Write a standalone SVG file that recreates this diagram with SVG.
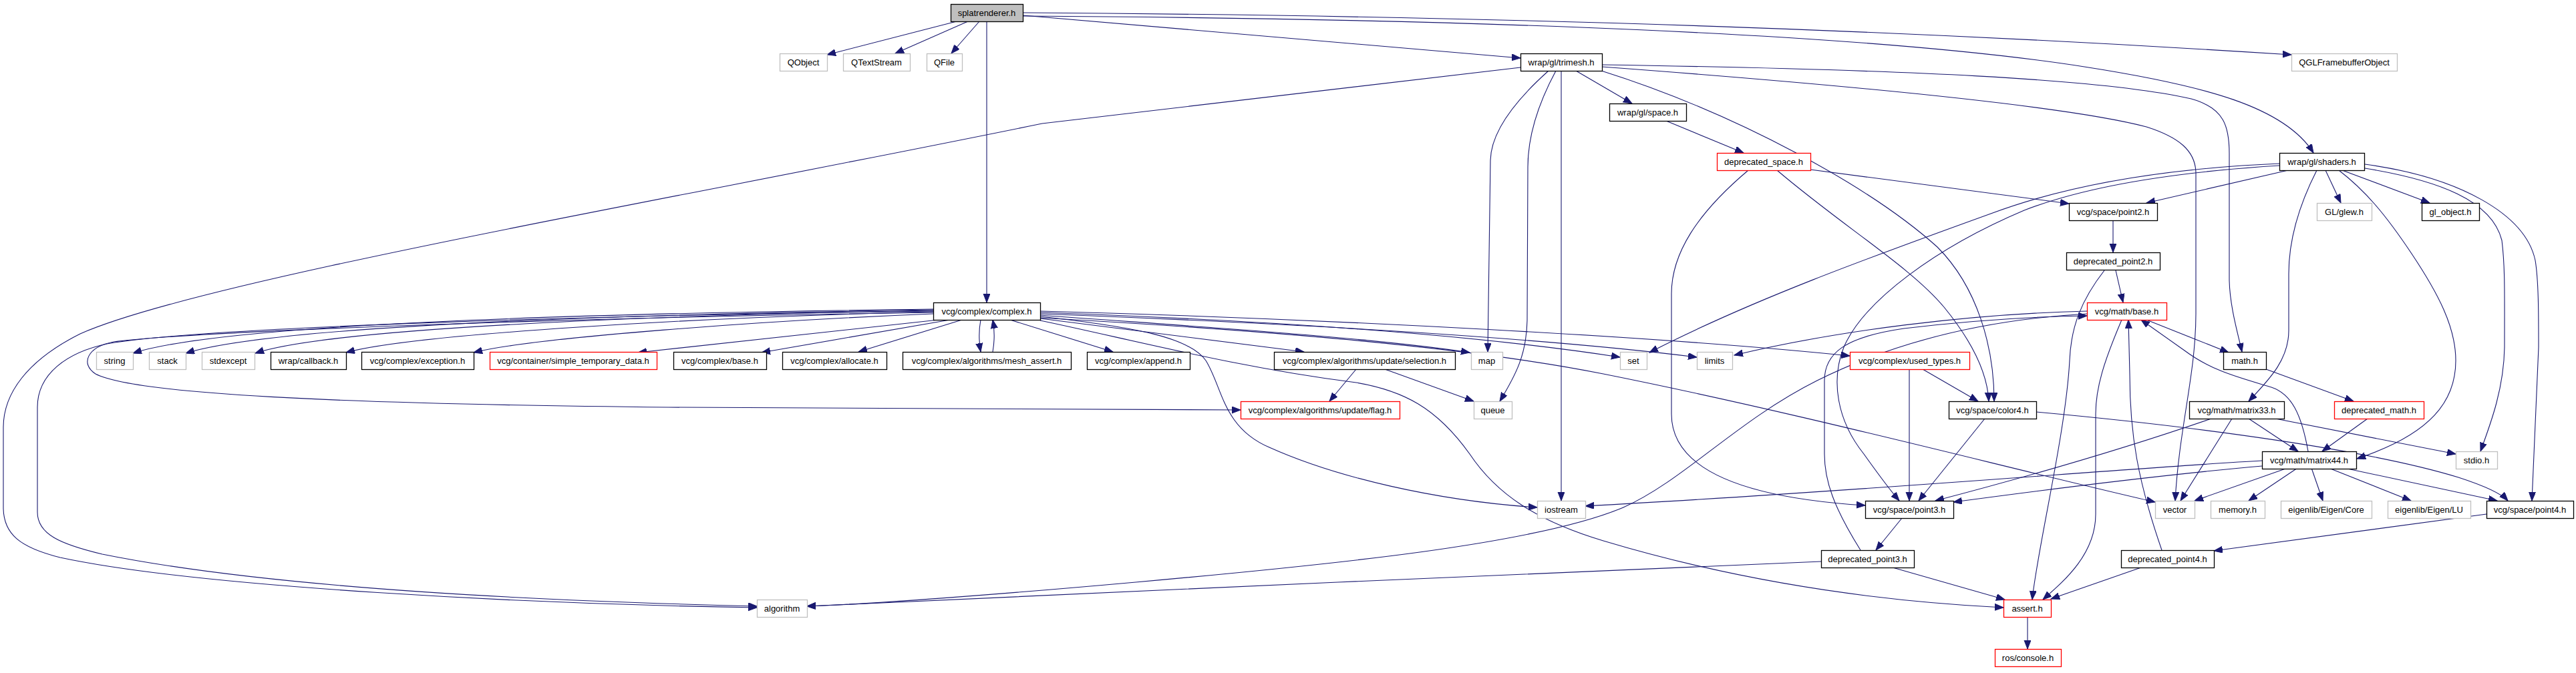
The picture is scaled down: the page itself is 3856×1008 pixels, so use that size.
<svg xmlns="http://www.w3.org/2000/svg" width="3856" height="1008" viewBox="0 0 3856 1008">
<defs>
<marker id="a" markerUnits="userSpaceOnUse" markerWidth="15" markerHeight="12" refX="13" refY="5" orient="auto">
<path d="M0,0 L13,5 L0,10 z" fill="#191970" stroke="#191970" stroke-width="1"/>
</marker>
<style>
rect{fill:#fff;stroke:#000;stroke-width:1.3}
.x rect{stroke:#bfbfbf}
.r rect{stroke:#ff0000}
.root rect{fill:#bfbfbf}
text{font-family:"Liberation Sans",Arial,sans-serif;font-size:13px;text-anchor:middle;fill:#000}
#edges path{fill:none;stroke:#191970;stroke-width:1.1;marker-end:url(#a)}
</style>
</defs>
<rect x="0" y="0" width="3856" height="1008" style="fill:#fff;stroke:none"/>
<g id="edges">
<path d="M1432,32 L1238,82"/>
<path d="M1449,32 L1340,80"/>
<path d="M1466,32 L1424,80"/>
<path d="M1477,32 L1477,453"/>
<path d="M1531,23 L2276,87"/>
<path d="M1531,19 C2300,24 2900,48 3430,82"/>
<path d="M1531,24 C2200,28 2800,50 3120,100 C3300,128 3420,160 3463,229"/>
<path d="M2276,101 L1560,185 C1000,300 300,420 120,500 C40,540 5,590 5,640 L5,760 C5,800 30,820 90,835 C300,880 800,905 1133,910"/>
<path d="M2318,106 C2280,140 2232,190 2231,240 L2227,527"/>
<path d="M2329,106 C2300,160 2287,210 2287,250 L2286,480 C2285,530 2270,560 2245,601"/>
<path d="M2337,106 L2337,750"/>
<path d="M2359,106 L2443,155"/>
<path d="M2397,106 C2600,170 2800,280 2900,370 C2960,430 2985,520 2985,601"/>
<path d="M2398,97 C2850,104 3150,118 3280,148 C3330,162 3337,190 3337,230 L3337,420 C3338,460 3350,500 3356,527"/>
<path d="M2398,100 C2800,130 3100,160 3213,190 C3260,205 3287,225 3287,260 L3287,470 C3287,560 3262,640 3256,750"/>
<path d="M2494,181 L2610,229"/>
<path d="M2617,255 C2540,320 2502,380 2502,440 L2502,620 C2502,700 2600,745 2792,757"/>
<path d="M2660,255 C2760,340 2860,400 2910,460 C2955,515 2975,560 2977,601"/>
<path d="M2710,254 L3097,305"/>
<path d="M3425,255 L3213,304"/>
<path d="M3481,255 L3504,304"/>
<path d="M3506,255 L3637,304"/>
<path d="M3412,245 C3250,252 3100,275 2980,320 C2800,385 2620,450 2469,528"/>
<path d="M3412,248 C3250,258 3120,280 3030,315 C2900,370 2790,450 2760,520 C2740,570 2750,630 2790,680 C2815,715 2830,735 2843,750"/>
<path d="M3468,255 C3440,310 3426,360 3426,410 L3426,495 C3426,540 3395,570 3366,601"/>
<path d="M3501,255 C3540,285 3570,320 3610,380 C3650,440 3676,490 3676,540 C3676,600 3640,650 3528,687"/>
<path d="M3540,252 C3650,270 3730,300 3745,360 C3750,400 3749,440 3749,520 C3748,580 3730,630 3713,676"/>
<path d="M3540,246 C3680,265 3780,320 3795,390 C3800,420 3800,470 3800,520 L3790,750"/>
<path d="M3163,330 L3163,378"/>
<path d="M3167,405 L3178,453"/>
<path d="M3150,405 C3115,450 3100,490 3098,540 C3092,650 3050,820 3042,898"/>
<path d="M3124,466 C2950,470 2750,495 2596,532"/>
<path d="M3124,470 C2950,480 2820,520 2720,570 C2600,630 2520,720 2430,760 C2300,815 2000,845 1700,872 C1500,890 1300,905 1208,908"/>
<path d="M3176,479 C3150,540 3137,580 3137,620 L3137,770 C3137,830 3090,870 3058,898"/>
<path d="M3213,479 L3336,528"/>
<path d="M3236,824 C3200,720 3188,650 3188,560 L3186,479"/>
<path d="M3455,676 C3445,620 3430,590 3400,580 C3350,565 3310,555 3270,525 L3205,479"/>
<path d="M2785,824 C2745,760 2731,720 2731,680 L2731,570 C2731,530 2760,505 2850,492 C2950,480 3050,474 3124,473"/>
<path d="M3366,627 L3440,676"/>
<path d="M3341,627 L3264,750"/>
<path d="M3406,627 L3676,680"/>
<path d="M3310,627 C3200,665 3050,710 2897,750"/>
<path d="M3392,553 L3523,601"/>
<path d="M3544,627 L3476,676"/>
<path d="M3424,701 L3285,750"/>
<path d="M3439,701 L3366,750"/>
<path d="M3460,701 L3477,750"/>
<path d="M3486,701 L3609,750"/>
<path d="M3509,701 L3738,750"/>
<path d="M3386,690 C3200,700 2800,735 2373,758"/>
<path d="M3386,698 C3250,710 3050,735 2924,752"/>
<path d="M3048,617 C3300,640 3550,675 3680,715 C3720,728 3745,740 3754,750"/>
<path d="M2971,627 L2872,750"/>
<path d="M2858,553 L2858,750"/>
<path d="M2878,553 L2961,601"/>
<path d="M2847,776 L2808,824"/>
<path d="M2833,850 L3001,898"/>
<path d="M2726,841 C2300,858 1600,890 1208,908"/>
<path d="M3722,770 L3314,825"/>
<path d="M3205,850 L3070,897"/>
<path d="M3035,924 L3035,972"/>
<path d="M1397,463 C1000,468 350,480 199,529"/>
<path d="M1397,464 C1000,470 420,485 278,529"/>
<path d="M1397,465 C1000,472 500,490 382,529"/>
<path d="M1397,467 C1050,475 620,500 518,528"/>
<path d="M1397,470 C1150,480 800,505 709,528"/>
<path d="M1405,479 L955,528"/>
<path d="M1422,479 L1140,528"/>
<path d="M1440,479 L1285,527"/>
<path d="M1468,479 C1465,495 1465,510 1468,527"/>
<path d="M1486,527 C1489,510 1489,495 1486,479"/>
<path d="M1397,466 C900,472 300,490 160,515 C100,528 56,560 56,610 L56,767 C56,800 90,815 153,830 C400,880 800,900 1133,908"/>
<path d="M1397,468 C900,475 300,495 170,512 C130,520 120,545 143,560 C200,590 500,605 1000,610 L1857,614"/>
<path d="M1512,479 L1666,527"/>
<path d="M1557,477 L1952,527"/>
<path d="M1557,472 C1800,490 2050,505 2200,528"/>
<path d="M1557,474 C1700,490 1780,505 1805,540 C1830,580 1830,640 1900,670 C2000,715 2150,750 2301,760"/>
<path d="M1557,480 C1700,510 1850,550 2030,573 C2100,585 2150,610 2200,680 C2240,740 2300,780 2400,810 C2600,870 2800,900 2999,910"/>
<path d="M1557,468 C1900,480 2200,500 2425,535"/>
<path d="M1557,470 C1950,485 2300,505 2540,535"/>
<path d="M1557,466 C2000,478 2500,505 2769,533"/>
<path d="M1557,476 C1900,495 2200,520 2400,560 C2700,620 3000,700 3226,752"/>
<path d="M2030,553 L1990,601"/>
<path d="M2073,553 L2206,601"/>
</g>
<g id="n_splat" class="root"><rect x="1423.5" y="6.5" width="108" height="26"/><text x="1477" y="24">splatrenderer.h</text></g>
<g id="n_qobject" class="x"><rect x="1167.5" y="80.5" width="71" height="26"/><text x="1202.5" y="98">QObject</text></g>
<g id="n_qtextstream" class="x"><rect x="1262.5" y="80.5" width="100" height="26"/><text x="1312" y="98">QTextStream</text></g>
<g id="n_qfile" class="x"><rect x="1387.5" y="80.5" width="53" height="26"/><text x="1413.5" y="98">QFile</text></g>
<g id="n_trimesh"><rect x="2276.5" y="80.5" width="122" height="26"/><text x="2337" y="98">wrap/gl/trimesh.h</text></g>
<g id="n_qglfbo" class="x"><rect x="3430.5" y="80.5" width="158" height="26"/><text x="3509" y="98">QGLFramebufferObject</text></g>
<g id="n_space"><rect x="2409.5" y="155.5" width="115" height="26"/><text x="2466.5" y="173">wrap/gl/space.h</text></g>
<g id="n_depspace" class="r"><rect x="2570.5" y="229.5" width="140" height="26"/><text x="2640" y="247">deprecated_space.h</text></g>
<g id="n_shaders"><rect x="3412.5" y="229.5" width="127" height="26"/><text x="3475.5" y="247">wrap/gl/shaders.h</text></g>
<g id="n_point2"><rect x="3097.5" y="304.5" width="132" height="26"/><text x="3163" y="322">vcg/space/point2.h</text></g>
<g id="n_glew" class="x"><rect x="3468.5" y="304.5" width="82" height="26"/><text x="3509" y="322">GL/glew.h</text></g>
<g id="n_globject"><rect x="3625.5" y="304.5" width="86" height="26"/><text x="3668" y="322">gl_object.h</text></g>
<g id="n_dp2"><rect x="3093.5" y="378.5" width="140" height="26"/><text x="3163" y="396">deprecated_point2.h</text></g>
<g id="n_complex"><rect x="1397.5" y="453.5" width="160" height="26"/><text x="1477" y="471">vcg/complex/complex.h</text></g>
<g id="n_mathbase" class="r"><rect x="3124.5" y="453.5" width="119" height="26"/><text x="3183.5" y="471">vcg/math/base.h</text></g>
<g id="n_string" class="x"><rect x="144.5" y="527.5" width="55" height="26"/><text x="171.5" y="545">string</text></g>
<g id="n_stack" class="x"><rect x="223.5" y="527.5" width="55" height="26"/><text x="250.5" y="545">stack</text></g>
<g id="n_stdexcept" class="x"><rect x="302.5" y="527.5" width="79" height="26"/><text x="341.5" y="545">stdexcept</text></g>
<g id="n_callback"><rect x="405.5" y="527.5" width="113" height="26"/><text x="461.5" y="545">wrap/callback.h</text></g>
<g id="n_exception"><rect x="541.5" y="527.5" width="168" height="26"/><text x="625" y="545">vcg/complex/exception.h</text></g>
<g id="n_simpletemp" class="r"><rect x="733.5" y="527.5" width="250" height="26"/><text x="858" y="545">vcg/container/simple_temporary_data.h</text></g>
<g id="n_cbase"><rect x="1008.5" y="527.5" width="139" height="26"/><text x="1077.5" y="545">vcg/complex/base.h</text></g>
<g id="n_allocate"><rect x="1171.5" y="527.5" width="156" height="26"/><text x="1249" y="545">vcg/complex/allocate.h</text></g>
<g id="n_meshassert"><rect x="1351.5" y="527.5" width="252" height="26"/><text x="1477" y="545">vcg/complex/algorithms/mesh_assert.h</text></g>
<g id="n_append"><rect x="1627.5" y="527.5" width="154" height="26"/><text x="1704" y="545">vcg/complex/append.h</text></g>
<g id="n_selection"><rect x="1907.5" y="527.5" width="271" height="26"/><text x="2042.5" y="545">vcg/complex/algorithms/update/selection.h</text></g>
<g id="n_map" class="x"><rect x="2202.5" y="527.5" width="47" height="26"/><text x="2225.5" y="545">map</text></g>
<g id="n_set" class="x"><rect x="2425.5" y="527.5" width="40" height="26"/><text x="2445" y="545">set</text></g>
<g id="n_limits" class="x"><rect x="2540.5" y="527.5" width="53" height="26"/><text x="2566.5" y="545">limits</text></g>
<g id="n_usedtypes" class="r"><rect x="2769.5" y="527.5" width="179" height="26"/><text x="2858.5" y="545">vcg/complex/used_types.h</text></g>
<g id="n_mathh"><rect x="3328.5" y="527.5" width="64" height="26"/><text x="3360" y="545">math.h</text></g>
<g id="n_flag" class="r"><rect x="1857.5" y="601.5" width="238" height="26"/><text x="1976" y="619">vcg/complex/algorithms/update/flag.h</text></g>
<g id="n_queue" class="x"><rect x="2206.5" y="601.5" width="57" height="26"/><text x="2234.5" y="619">queue</text></g>
<g id="n_color4"><rect x="2917.5" y="601.5" width="131" height="26"/><text x="2982.5" y="619">vcg/space/color4.h</text></g>
<g id="n_matrix33"><rect x="3277.5" y="601.5" width="142" height="26"/><text x="3348" y="619">vcg/math/matrix33.h</text></g>
<g id="n_depmath" class="r"><rect x="3494.5" y="601.5" width="134" height="26"/><text x="3561" y="619">deprecated_math.h</text></g>
<g id="n_matrix44"><rect x="3386.5" y="676.5" width="141" height="26"/><text x="3456.5" y="694">vcg/math/matrix44.h</text></g>
<g id="n_stdio" class="x"><rect x="3676.5" y="676.5" width="62" height="26"/><text x="3707" y="694">stdio.h</text></g>
<g id="n_iostream" class="x"><rect x="2301.5" y="750.5" width="72" height="26"/><text x="2337" y="768">iostream</text></g>
<g id="n_point3"><rect x="2792.5" y="750.5" width="132" height="26"/><text x="2858" y="768">vcg/space/point3.h</text></g>
<g id="n_vector" class="x"><rect x="3226.5" y="750.5" width="59" height="26"/><text x="3255.5" y="768">vector</text></g>
<g id="n_memory" class="x"><rect x="3309.5" y="750.5" width="81" height="26"/><text x="3349.5" y="768">memory.h</text></g>
<g id="n_eigencore" class="x"><rect x="3414.5" y="750.5" width="136" height="26"/><text x="3482" y="768">eigenlib/Eigen/Core</text></g>
<g id="n_eigenlu" class="x"><rect x="3574.5" y="750.5" width="124" height="26"/><text x="3636" y="768">eigenlib/Eigen/LU</text></g>
<g id="n_point4"><rect x="3722.5" y="750.5" width="130" height="26"/><text x="3787" y="768">vcg/space/point4.h</text></g>
<g id="n_dp3"><rect x="2726.5" y="824.5" width="139" height="26"/><text x="2795.5" y="842">deprecated_point3.h</text></g>
<g id="n_dp4"><rect x="3175.5" y="824.5" width="139" height="26"/><text x="3244.5" y="842">deprecated_point4.h</text></g>
<g id="n_algorithm" class="x"><rect x="1133.5" y="898.5" width="75" height="26"/><text x="1170.5" y="916">algorithm</text></g>
<g id="n_assert" class="r"><rect x="2999.5" y="898.5" width="71" height="26"/><text x="3034.5" y="916">assert.h</text></g>
<g id="n_ros" class="r"><rect x="2986.5" y="972.5" width="99" height="26"/><text x="3035.5" y="990">ros/console.h</text></g>
</svg>
